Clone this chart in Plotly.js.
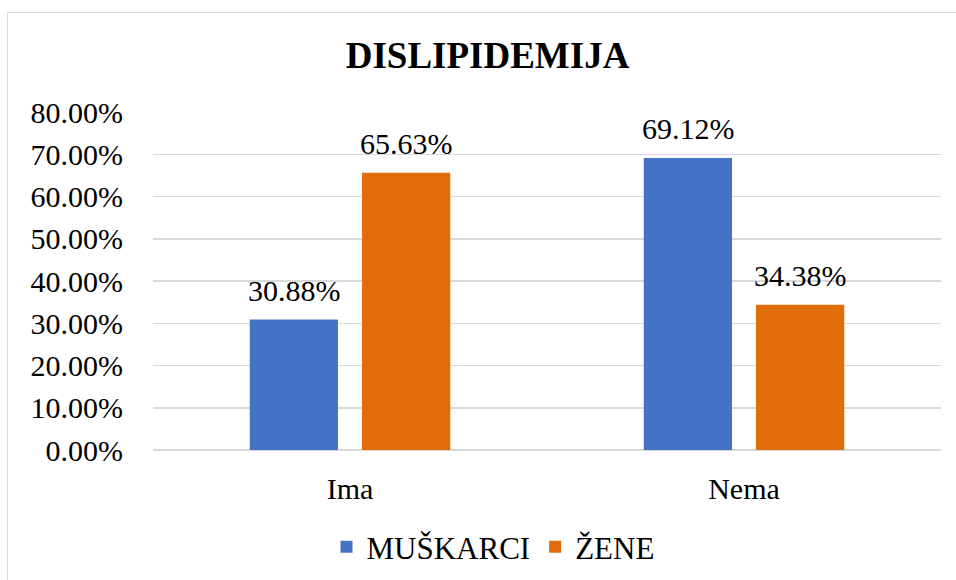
<!DOCTYPE html>
<html>
<head>
<meta charset="utf-8">
<script src="https://cdn.plot.ly/plotly-3.0.1.min.js"></script>
<style>
  html, body { margin: 0; padding: 0; background: #fff; }
  #wrap { position: relative; width: 956px; height: 580px; overflow: hidden; }
  #chart { width: 956px; height: 580px; }
  #frame { position: absolute; left: 7px; top: 12px; width: 980px; height: 600px;
           border: 1.5px solid #d9d9d9; pointer-events: none; box-sizing: border-box; }
</style>
</head>
<body>
<div id="wrap">
  <div id="chart"></div>
  <div id="frame"></div>
</div>
<script>
const categories = ["Ima", "Nema"];
const seriesNames = ["MUŠKARCI", "ŽENE"];
const muskarci = [0.3088, 0.6912];
const zene = [0.6563, 0.3438];
const yTickValues = [0, 0.1, 0.2, 0.3, 0.4, 0.5, 0.6, 0.7, 0.8];

const FONT = "Liberation Serif, Times New Roman, serif";
const colors = ["#4472C4", "#E36C0A"];

function barTrace(name, values, color) {
  return {
    type: "bar",
    name: name,
    x: categories,
    y: values,
    marker: { color: color },
    hoverinfo: "skip"
  };
}

const data = [
  barTrace(seriesNames[0], muskarci, colors[0]),
  barTrace(seriesNames[1], zene, colors[1])
];

// value labels above each bar, placed from the data arrays
const seriesValues = [muskarci, zene];
const slotShift = [-56, 56];
const annotations = [];
seriesValues.forEach(function (vals, s) {
  vals.forEach(function (v, i) {
    annotations.push({
      x: categories[i], y: v, xref: "x", yref: "y",
      text: (v * 100).toFixed(2) + "%",
      showarrow: false,
      xanchor: "center", yanchor: "bottom",
      xshift: slotShift[s], yshift: 11,
      font: { family: FONT, size: 30, color: "#000" }
    });
  });
});

const layout = {
  width: 956,
  height: 580,
  margin: { l: 153, r: 15, t: 112, b: 130 },
  paper_bgcolor: "#fff",
  plot_bgcolor: "#fff",
  font: { family: FONT, size: 30, color: "#000" },
  title: {
    text: "<b>DISLIPIDEMIJA</b>",
    font: { family: FONT, size: 37, color: "#000" },
    x: 0.51, xanchor: "center",
    y: 1 - 55 / 580, yanchor: "middle", yref: "container"
  },
  barmode: "group",
  bargap: 0.43,
  bargroupgap: 0.214,
  xaxis: {
    type: "category",
    showgrid: false,
    showline: false,
    zeroline: false,
    ticks: "",
    tickfont: { family: FONT, size: 30, color: "#000" },
    ticklabelstandoff: 18
  },
  yaxis: {
    range: [0, 0.8],
    tickvals: yTickValues,
    tickformat: ".2%",
    showgrid: true,
    gridcolor: "#d9d9d9",
    gridwidth: 1.5,
    zeroline: true,
    zerolinecolor: "#d9d9d9",
    zerolinewidth: 1.5,
    showline: false,
    ticks: "",
    tickfont: { family: FONT, size: 30, color: "#000" },
    ticklabelstandoff: 29
  },
  annotations: annotations,
  showlegend: true,
  legend: {
    orientation: "h",
    xref: "container",
    x: 493 / 956, xanchor: "center",
    yref: "container",
    y: 1 - 547 / 580, yanchor: "middle",
    font: { family: FONT, size: 31, color: "#000" },
    itemwidth: 30,
    traceorder: "normal"
  }
};

Plotly.newPlot("chart", data, layout, { displayModeBar: false, staticPlot: true });
</script>
</body>
</html>
